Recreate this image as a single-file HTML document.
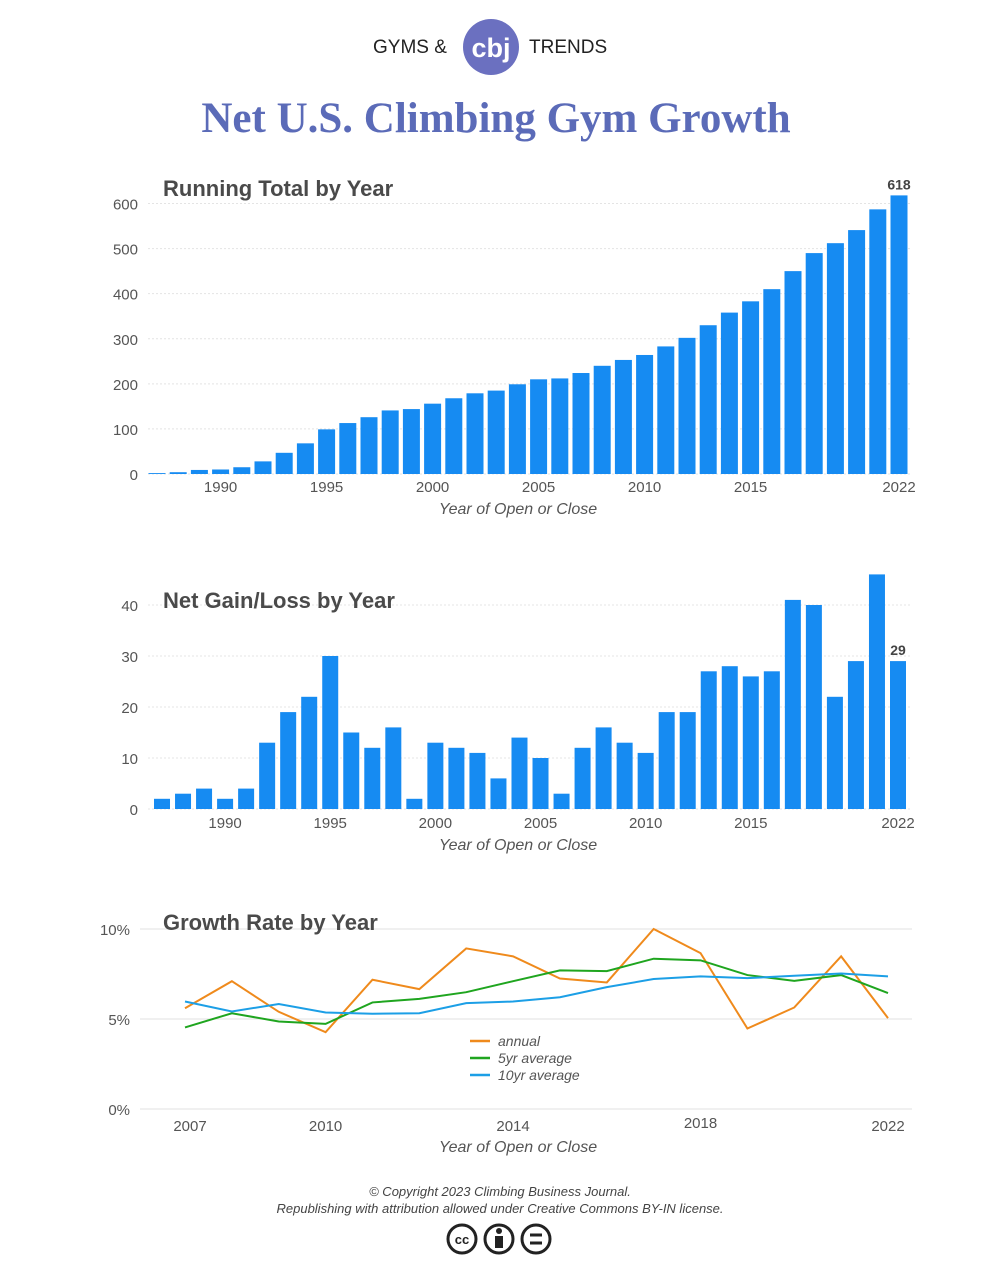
<!DOCTYPE html>
<html><head><meta charset="utf-8"><style>
body{margin:0;background:#fff;width:1000px;height:1281px;overflow:hidden;font-family:"Liberation Sans",sans-serif}
svg text{font-family:"Liberation Sans",sans-serif}
</style></head><body>
<svg id="s" width="1000" height="1281">
<g>
<text x="373" y="53" font-size="19" fill="#222">GYMS &amp;</text>
<circle cx="491" cy="47" r="28" fill="#6b70c0"/>
<text x="491" y="57" font-size="27" font-weight="bold" fill="#fff" text-anchor="middle">cbj</text>
<text x="529" y="53" font-size="19" fill="#222">TRENDS</text>
<text x="496" y="132" font-size="43" font-weight="bold" fill="#5b6bb8" text-anchor="middle" style="font-family:'Liberation Serif',serif">Net U.S. Climbing Gym Growth</text>
</g>
<g id="c1"></g><g id="c2"></g><g id="c3"></g>
<g>
<text x="500" y="1196" font-size="13" font-style="italic" fill="#444" text-anchor="middle">© Copyright 2023 Climbing Business Journal.</text>
<text x="500" y="1213" font-size="13" font-style="italic" fill="#444" text-anchor="middle">Republishing with attribution allowed under Creative Commons BY-IN license.</text>
<g fill="none" stroke="#222" stroke-width="3">
<circle cx="462" cy="1239" r="14"/><circle cx="499" cy="1239" r="14"/><circle cx="536" cy="1239" r="14"/>
<text x="462" y="1244" font-size="13" font-weight="bold" fill="#222" stroke="none" text-anchor="middle">cc</text>
<circle cx="499" cy="1231" r="3" fill="#222" stroke="none"/><rect x="495" y="1236" width="8" height="12" fill="#222" stroke="none"/>
<line x1="530" y1="1235" x2="542" y2="1235"/><line x1="530" y1="1243" x2="542" y2="1243"/>
</g></g>
</svg>
<script>
const years1=[];for(let y=1987;y<=2022;y++)years1.push(y);
const totals=[2,4,9,10,15,28,47,68,99,113,126,141,144,156,168,179,185,199,210,212,224,240,253,264,283,302,330,358,383,410,450,490,512,541,587,618];
const totalTicks=[0,100,200,300,400,500,600];
const netGain=[2,3,4,2,4,13,19,22,30,15,12,16,2,13,12,11,6,14,10,3,12,16,13,11,19,19,27,28,26,27,41,40,22,29,46,29];
const netTicks=[0,10,20,30,40];
const xLabels=[1990,1995,2000,2005,2010,2015,2022];
const years3=[2007,2008,2009,2010,2011,2012,2013,2014,2015,2016,2017,2018,2019,2020,2021,2022];
const annual=[5.6,7.1,5.4,4.27,7.18,6.66,8.92,8.48,7.25,7.03,10.0,8.66,4.47,5.64,8.48,5.05];
const avg5=[4.53,5.32,4.86,4.73,5.92,6.12,6.49,7.1,7.7,7.66,8.35,8.26,7.44,7.12,7.44,6.44];
const avg10=[5.97,5.42,5.83,5.36,5.29,5.32,5.88,5.97,6.21,6.77,7.22,7.37,7.27,7.4,7.53,7.37];
const rateTicks=[0,5,10];
const rateLabels=[2007,2010,2014,2018,2022];
const NS='http://www.w3.org/2000/svg';
function mk(p,t,a,txt){const e=document.createElementNS(NS,t);for(const k in a)e.setAttribute(k,a[k]);if(txt!==undefined)e.textContent=txt;p.appendChild(e);return e;}
function barChart(g,vals,ticks,x0,x1,yBase,yTop,maxV,title,titleY,axY,bw){
  const n=vals.length,step=(x1-x0)/(n-1);
  const X=i=>x0+i*step,Y=v=>yBase-(v/maxV)*(yBase-yTop);
  ticks.forEach(t=>{
    const l=mk(g,'line',{x1:148,x2:912,y1:Y(t),y2:Y(t),stroke:'#e4e4e4','stroke-dasharray':'2,2'});
    
    
    const tx=mk(g,'text',{x:138,y:Y(t)+6,'font-size':15,fill:'#555','text-anchor':'end'},t);
    
    
  });
  vals.forEach((v,i)=>{
    const r=mk(g,'rect',{x:X(i)-bw/2,y:Y(v),width:bw,height:yBase-Y(v),fill:'#168bf2'});
    
    
  });
  xLabels.forEach(yr=>{
    const i=years1.indexOf(yr);
    const t=mk(g,'text',{x:X(i),y:axY,'font-size':15,fill:'#555','text-anchor':'middle'},yr);
    
    
  });
  const lv=vals[n-1];
  const lt=mk(g,'text',{x:X(n-1),y:Y(lv)-6,'font-size':14,'font-weight':'bold',fill:'#444','text-anchor':'middle'},lv);
  
  
  const tt=mk(g,'text',{x:163,y:titleY,'font-size':22,'font-weight':'bold',fill:'#4a4a4a'},title);
  
  
  const xt=mk(g,'text',{x:518,y:axY+22,'font-size':16,'font-style':'italic',fill:'#555','text-anchor':'middle'},'Year of Open or Close');
  
  
}
const c1=document.getElementById('c1');


barChart(c1,totals,totalTicks,157,899,474,203.5,600,'Running Total by Year',196,492,17);
const c2=document.getElementById('c2');


barChart(c2,netGain,netTicks,162,898,809,605,40,'Net Gain/Loss by Year',608,828,16);
const c3=document.getElementById('c3');


const X3=i=>185+i*((888-185)/15);
const Y3=v=>1109-v*18;
rateTicks.forEach(t=>{
  const l=mk(c3,'line',{x1:140,x2:912,y1:Y3(t),y2:Y3(t),stroke:'#e0e0e0'});
  
  
  const tx=mk(c3,'text',{x:130,y:Y3(t)+6,'font-size':15,fill:'#555','text-anchor':'end'},t+'%');
  
  
});
rateLabels.forEach(yr=>{
  const i=years3.indexOf(yr);
  const t=mk(c3,'text',{x:X3(i)+(yr===2007?5:0),y:yr===2018?1128:1131,'font-size':15,fill:'#555','text-anchor':'middle'},yr);
  
  
});
const series=[[annual,'#ef8a1c','annual-line'],[avg5,'#1fa51f','5yr-average-line'],[avg10,'#1c9fe6','10yr-average-line']];
series.forEach(([d,c,nm])=>{
  const p=mk(c3,'polyline',{points:d.map((v,i)=>X3(i)+','+Y3(v)).join(' '),fill:'none',stroke:c,'stroke-width':2});
  
  
});
const legendNames=['annual','5yr average','10yr average'];
legendNames.forEach((nm,i)=>{
  const y=1041+i*17;
  const g=mk(c3,'g',{});
  
  
  mk(g,'line',{x1:470,x2:490,y1:y,y2:y,stroke:series[i][1],'stroke-width':2.5});
  mk(g,'text',{x:498,y:y+5,'font-size':14,'font-style':'italic',fill:'#555'},nm);
});
const t3=mk(c3,'text',{x:163,y:930,'font-size':22,'font-weight':'bold',fill:'#4a4a4a'},'Growth Rate by Year');


const x3t=mk(c3,'text',{x:518,y:1152,'font-size':16,'font-style':'italic',fill:'#555','text-anchor':'middle'},'Year of Open or Close');


</script>
</body></html>
